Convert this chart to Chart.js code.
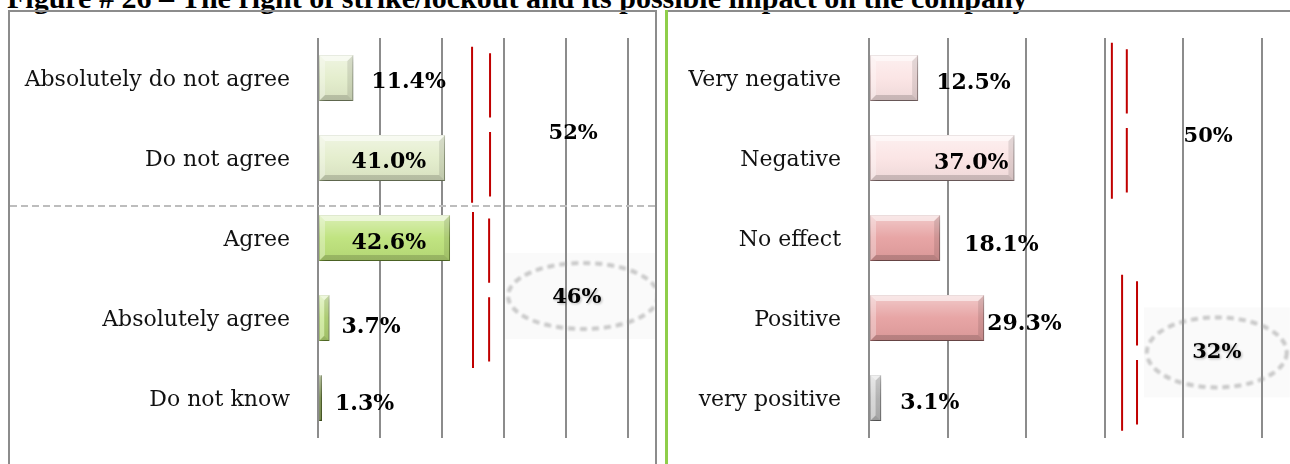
<!DOCTYPE html>
<html>
<head>
<meta charset="utf-8">
<script src="https://cdn.jsdelivr.net/npm/chart.js@4.4.0/dist/chart.umd.min.js"></script>
<style>
  html, body { margin: 0; padding: 0; background: #fff; }
  body { width: 1290px; height: 464px; position: relative; overflow: hidden; }
  .title {
    position: absolute; left: 7px; top: -17px;
    font: bold 30px "Liberation Serif", "Times New Roman", serif;
    line-height: 30px; white-space: nowrap; color: #000;
  }
  .panel-left {
    position: absolute; left: 8px; top: 10px; width: 645px; height: 470px;
    border: 2px solid #8c8c8c; border-bottom: none;
  }
  .green-rule { position: absolute; left: 665px; top: 10px; width: 3px; height: 460px; background: #8fce4a; }
  .panel-right-top { position: absolute; left: 668px; top: 10px; width: 622px; height: 2px; background: #8c8c8c; }
  .chart-box { position: absolute; top: 12px; height: 452px; }
  #leftBox { left: 10px; width: 645px; }
  #rightBox { left: 670px; width: 620px; }
</style>
</head>
<body>
<div class="title">Figure # 26 – The right of strike/lockout and its possible impact on the company</div>
<div class="panel-left"></div>
<div class="green-rule"></div>
<div class="panel-right-top"></div>
<div class="chart-box" id="leftBox"><canvas id="leftChart"></canvas></div>
<div class="chart-box" id="rightBox"><canvas id="rightChart"></canvas></div>

<script>
// --- data ---
const agreeCategories = ['Absolutely do not agree', 'Do not agree', 'Agree', 'Absolutely agree', 'Do not know'];
const agreeValues = [11.4, 41.0, 42.6, 3.7, 1.3];
const agreeGroups = [[0, 1], [2, 3]];          // 52% / 46%

const impactCategories = ['Very negative', 'Negative', 'No effect', 'Positive', 'very positive'];
const impactValues = [12.5, 37.0, 18.1, 29.3, 3.1];
const impactGroups = [[0, 1], [3, 4]];         // 50% / 32%

const gridTicks = [0, 20, 40, 60, 80, 100];

// --- styling ---
const serif = '"DejaVu Serif", "Liberation Serif", serif';

const agreeStyle = {
    colors: ['#e3edcb', '#e3edcb', '#bde27a', '#bde27a', '#6b8436'],
    borders: ['#a7b68a', '#a7b68a', '#86ad3f', '#86ad3f', '#4d6224'],
    inside: [false, true, true, false, false],
    dx: [18, -19, -24, 12, 13],
    dy: [2, 2, 3, 7, 4],
    axisWidth: 308,
    padRight: 27,
    divider: 1.6,
    brackets: [
        { x1: 49.7, x2: 55.5, y1: -0.39, y2: 1.56, lx: 82.3, ly: 0.66 },
        { x1: 50.0, x2: 55.2, y1: 1.675, y2: 3.625, lx: 83.5, ly: 2.71, ring: { cx: 85.5, cy: 2.725, rx: 75, ry: 33 } }
    ]
};

const impactStyle = {
    colors: ['#fbe4e4', '#fbe4e4', '#e6a0a0', '#e6a0a0', '#c4c4c4'],
    borders: ['#b89a9a', '#b89a9a', '#b57777', '#b57777', '#8a8a8a'],
    inside: [false, true, false, false, false],
    dx: [18, -6, 24, 3, 19],
    dy: [3, 3, 5, 4, 3],
    axisWidth: 199,
    padRight: 28,
    divider: null,
    brackets: [
        { x1: 61.8, x2: 65.6, y1: -0.44, y2: 1.51, lx: 86.3, ly: 0.7 },
        { x1: 64.4, x2: 68.2, y1: 2.46, y2: 4.41, lx: 88.5, ly: 3.4, ring: { cx: 88.5, cy: 3.43, rx: 70, ry: 35 } }
    ]
};

// faint box behind the circled totals + dashed divider
const underlayPlugin = {
    id: 'underlay',
    beforeDraw(chart, args, opts) {
        const { ctx } = chart;
        const xs = chart.scales.x, ys = chart.scales.y;
        ctx.save();
        opts.brackets.forEach(b => {
            if (!b.ring) return;
            const cx = xs.getPixelForValue(b.ring.cx);
            const cy = ys.getPixelForValue(b.ring.cy);
            ctx.fillStyle = 'rgba(0,0,0,0.02)';
            ctx.fillRect(cx - b.ring.rx - 3, cy - b.ring.ry - 10, b.ring.rx * 2 + 6, b.ring.ry * 2 + 20);
        });
        ctx.restore();
    },
    afterDraw(chart, args, opts) {
        if (opts.divider == null) return;
        const { ctx } = chart;
        const y = chart.scales.y.getPixelForValue(opts.divider);
        ctx.save();
        ctx.strokeStyle = '#bdbdbd';
        ctx.lineWidth = 2;
        ctx.setLineDash([7, 4]);
        ctx.beginPath();
        ctx.moveTo(0, y);
        ctx.lineTo(chart.width, y);
        ctx.stroke();
        ctx.restore();
    }
};

// soft shadow under the bars, then bevel + labels
const barLookPlugin = {
    id: 'barLook',
    beforeDatasetsDraw(chart) {
        const { ctx } = chart;
        ctx.save();
        ctx.shadowColor = 'rgba(0,0,0,0.35)';
        ctx.shadowBlur = 5;
        ctx.shadowOffsetX = 2;
        ctx.shadowOffsetY = 3;
    },
    afterDatasetsDraw(chart, args, opts) {
        const { ctx } = chart;
        ctx.restore();
        const meta = chart.getDatasetMeta(0);
        const values = chart.data.datasets[0].data;

        meta.data.forEach((bar, i) => {
            const left = bar.base, right = bar.x;
            const top = bar.y - bar.height / 2, bottom = bar.y + bar.height / 2;
            const w = right - left;
            const b = Math.min(6, w / 2);

            ctx.save();
            // vertical sheen
            const g = ctx.createLinearGradient(0, top, 0, bottom);
            g.addColorStop(0, 'rgba(255,255,255,0.45)');
            g.addColorStop(0.5, 'rgba(255,255,255,0.05)');
            g.addColorStop(1, 'rgba(0,0,0,0.06)');
            ctx.fillStyle = g;
            ctx.fillRect(left, top, w, bottom - top);

            // bevel edges
            const poly = (pts, fill) => {
                ctx.beginPath();
                ctx.moveTo(pts[0][0], pts[0][1]);
                pts.slice(1).forEach(p => ctx.lineTo(p[0], p[1]));
                ctx.closePath();
                ctx.fillStyle = fill;
                ctx.fill();
            };
            poly([[left, top], [right, top], [right - b, top + b], [left + b, top + b]], 'rgba(255,255,255,0.55)');
            poly([[left, top], [left + b, top + b], [left + b, bottom - b], [left, bottom]], 'rgba(255,255,255,0.3)');
            poly([[right, top], [right, bottom], [right - b, bottom - b], [right - b, top + b]], 'rgba(0,0,0,0.10)');
            poly([[left, bottom], [right, bottom], [right - b, bottom - b], [left + b, bottom - b]], 'rgba(0,0,0,0.16)');
            ctx.restore();

            // value label
            ctx.save();
            ctx.font = 'bold 22px ' + serif;
            ctx.fillStyle = '#000';
            ctx.textBaseline = 'alphabetic';
            ctx.textAlign = opts.inside[i] ? 'right' : 'left';
            ctx.fillText(values[i].toFixed(1) + '%', right + opts.dx[i], bar.y + opts.dy[i] + 8);
            ctx.restore();
        });

        // red brackets and group totals
        const xs = chart.scales.x, ys = chart.scales.y;
        opts.groups.forEach((grp, k) => {
            const br = opts.brackets[k];
            const total = Math.round(grp.reduce((s, idx) => s + values[idx], 0));
            const xa = xs.getPixelForValue(br.x1), xb = xs.getPixelForValue(br.x2);
            const ya1 = ys.getPixelForValue(br.y1), ya2 = ys.getPixelForValue(br.y2);
            const mid = (br.y1 + br.y2) / 2;
            ctx.save();
            ctx.strokeStyle = '#c00000';
            ctx.lineWidth = 2;
            ctx.beginPath();
            ctx.moveTo(xa, ya1); ctx.lineTo(xa, ya2);
            ctx.moveTo(xb, ys.getPixelForValue(br.y1 + 0.08)); ctx.lineTo(xb, ys.getPixelForValue(mid - 0.09));
            ctx.moveTo(xb, ys.getPixelForValue(mid + 0.09)); ctx.lineTo(xb, ys.getPixelForValue(br.y2 - 0.08));
            ctx.stroke();
            ctx.restore();

            if (br.ring) {
                ctx.save();
                ctx.filter = 'blur(1.2px)';
                ctx.strokeStyle = 'rgba(150,150,150,0.5)';
                ctx.lineWidth = 4;
                ctx.setLineDash([7, 5]);
                ctx.beginPath();
                ctx.ellipse(xs.getPixelForValue(br.ring.cx), ys.getPixelForValue(br.ring.cy), br.ring.rx, br.ring.ry, 0, 0, Math.PI * 2);
                ctx.stroke();
                ctx.restore();
            }

            ctx.save();
            ctx.font = 'bold 21px ' + serif;
            ctx.fillStyle = '#000';
            ctx.textAlign = 'center';
            ctx.textBaseline = 'alphabetic';
            if (br.ring) {
                ctx.shadowColor = 'rgba(0,0,0,0.3)';
                ctx.shadowBlur = 3;
                ctx.shadowOffsetX = 1;
                ctx.shadowOffsetY = 1;
            }
            ctx.fillText(total + '%', xs.getPixelForValue(br.lx), ys.getPixelForValue(br.ly) + 8);
            ctx.restore();
        });
    }
};

function makeChart(canvasId, categories, values, groups, style) {
    return new Chart(document.getElementById(canvasId), {
        type: 'bar',
        data: {
            labels: categories,
            datasets: [{
                data: values,
                backgroundColor: style.colors,
                borderColor: style.borders,
                borderWidth: 1,
                borderSkipped: false,
                barPercentage: 0.575,
                categoryPercentage: 1
            }]
        },
        options: {
            indexAxis: 'y',
            responsive: true,
            maintainAspectRatio: false,
            animation: false,
            events: [],
            layout: { padding: { top: 26, bottom: 26, left: 0, right: style.padRight } },
            plugins: {
                legend: { display: false },
                tooltip: { enabled: false },
                underlay: { brackets: style.brackets, divider: style.divider },
                barLook: {
                    inside: style.inside, dx: style.dx, dy: style.dy,
                    brackets: style.brackets, groups: groups
                }
            },
            scales: {
                x: {
                    min: gridTicks[0],
                    max: gridTicks[gridTicks.length - 1],
                    afterBuildTicks(scale) { scale.ticks = gridTicks.map(v => ({ value: v })); },
                    afterFit(scale) { scale.height = 0; scale.paddingLeft = 0; scale.paddingRight = 0; },
                    ticks: { display: false },
                    grid: { color: '#8c8c8c', lineWidth: 2, drawTicks: false },
                    border: { display: false }
                },
                y: {
                    afterFit(scale) {
                        scale.width = style.axisWidth;
                        scale.paddingTop = 0;
                        scale.paddingBottom = 0;
                    },
                    ticks: {
                        color: '#111',
                        padding: 28,
                        labelOffset: 2,
                        font: { family: serif, size: 22 }
                    },
                    grid: { display: false, drawTicks: false },
                    border: { display: false }
                }
            }
        },
        plugins: [underlayPlugin, barLookPlugin]
    });
}

makeChart('leftChart', agreeCategories, agreeValues, agreeGroups, agreeStyle);
makeChart('rightChart', impactCategories, impactValues, impactGroups, impactStyle);
</script>
</body>
</html>
